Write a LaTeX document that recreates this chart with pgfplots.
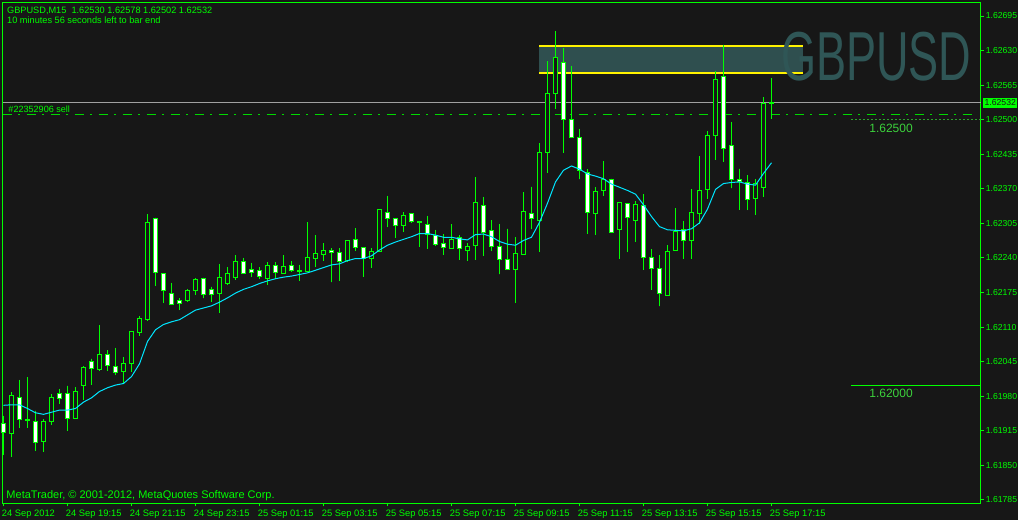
\documentclass[border=0pt]{standalone}
\usepackage{fontspec}
\setmainfont{Liberation Sans}
\usepackage{pgfplots}
\usepackage{pgfplotstable}
\usepgfplotslibrary{statistics}
\pgfplotsset{compat=1.18}

\newlength\px
\setlength\px{0.75pt}

\definecolor{chartbg}{HTML}{171717}
\definecolor{mtgreen}{HTML}{00FF00}
\definecolor{mtcyan}{HTML}{00E6FF}
\definecolor{dimgreen}{HTML}{2DA02D}
\definecolor{lblgreen}{HTML}{3CD23C}
\definecolor{zone}{HTML}{2F4F4F}
\definecolor{wmark}{HTML}{2F5656}
\definecolor{bidline}{HTML}{A0A0A0}

% GBPUSD M15 candles: low, body bottom, body top, high; up=1 bull (hollow), 0 bear (white)
\pgfplotstableread{
k low bot top high up
0 1.61870 1.61912 1.61928 1.61943 0
1 1.61865 1.61910 1.61981 1.61988 1
2 1.61920 1.61937 1.61978 1.62011 0
3 1.61921 1.61934 1.61937 1.62016 0
4 1.61878 1.61894 1.61932 1.61953 0
5 1.61876 1.61895 1.61932 1.61937 1
6 1.61926 1.61932 1.61978 1.61984 1
7 1.61966 1.61976 1.61986 1.61994 0
8 1.61915 1.61939 1.61986 1.62000 0
9 1.61938 1.61939 1.61989 1.61997 1
10 1.61973 1.62001 1.62035 1.62037 1
11 1.62002 1.62033 1.62046 1.62051 0
12 1.62028 1.62031 1.62059 1.62114 1
13 1.62028 1.62038 1.62059 1.62067 0
14 1.62020 1.62024 1.62036 1.62071 0
15 1.62003 1.62027 1.62042 1.62054 1
16 1.62025 1.62041 1.62102 1.62102 1
17 1.62094 1.62100 1.62127 1.62131 1
18 1.62121 1.62125 1.62307 1.62323 1
19 1.62188 1.62213 1.62315 1.62316 0
20 1.62156 1.62179 1.62211 1.62211 0
21 1.62153 1.62153 1.62174 1.62193 0
22 1.62142 1.62155 1.62161 1.62164 0
23 1.62158 1.62160 1.62179 1.62182 1
24 1.62171 1.62179 1.62200 1.62202 1
25 1.62164 1.62172 1.62202 1.62203 0
26 1.62158 1.62171 1.62180 1.62186 0
27 1.62137 1.62174 1.62204 1.62229 1
28 1.62190 1.62192 1.62211 1.62223 1
29 1.62199 1.62204 1.62234 1.62246 1
30 1.62211 1.62211 1.62234 1.62240 0
31 1.62204 1.62213 1.62219 1.62231 0
32 1.62201 1.62206 1.62217 1.62223 0
33 1.62190 1.62201 1.62226 1.62232 1
34 1.62201 1.62213 1.62226 1.62232 0
35 1.62210 1.62211 1.62224 1.62246 1
36 1.62214 1.62217 1.62226 1.62234 0
37 1.62197 1.62215 1.62217 1.62227 0
38 1.62214 1.62215 1.62241 1.62308 1
39 1.62223 1.62239 1.62248 1.62283 1
40 1.62234 1.62246 1.62255 1.62268 1
41 1.62194 1.62251 1.62254 1.62258 0
42 1.62197 1.62234 1.62251 1.62258 0
43 1.62234 1.62235 1.62273 1.62273 1
44 1.62254 1.62260 1.62275 1.62296 0
45 1.62205 1.62239 1.62260 1.62260 0
46 1.62222 1.62239 1.62253 1.62258 1
47 1.62252 1.62252 1.62332 1.62332 1
48 1.62298 1.62315 1.62326 1.62357 0
49 1.62278 1.62302 1.62315 1.62315 0
50 1.62289 1.62302 1.62320 1.62326 1
51 1.62306 1.62308 1.62324 1.62324 0
52 1.62261 1.62306 1.62309 1.62310 0
53 1.62257 1.62285 1.62303 1.62319 0
54 1.62263 1.62266 1.62283 1.62293 0
55 1.62246 1.62259 1.62268 1.62285 0
56 1.62258 1.62258 1.62275 1.62304 1
57 1.62237 1.62258 1.62278 1.62283 0
58 1.62234 1.62255 1.62262 1.62268 1
59 1.62237 1.62264 1.62345 1.62392 1
60 1.62244 1.62288 1.62339 1.62355 0
61 1.62253 1.62261 1.62292 1.62311 0
62 1.62209 1.62238 1.62262 1.62303 0
63 1.62219 1.62219 1.62238 1.62295 0
64 1.62155 1.62219 1.62249 1.62280 1
65 1.62247 1.62247 1.62327 1.62364 1
66 1.62294 1.62315 1.62324 1.62374 0
67 1.62252 1.62311 1.62438 1.62456 1
68 1.62400 1.62438 1.62550 1.62611 1
69 1.62520 1.62550 1.62617 1.62666 1
70 1.62438 1.62501 1.62608 1.62634 0
71 1.62467 1.62467 1.62501 1.62601 0
72 1.62388 1.62405 1.62467 1.62483 0
73 1.62286 1.62325 1.62400 1.62407 0
74 1.62284 1.62324 1.62365 1.62373 1
75 1.62357 1.62367 1.62388 1.62422 1
76 1.62287 1.62288 1.62388 1.62389 0
77 1.62239 1.62293 1.62345 1.62346 1
78 1.62251 1.62317 1.62342 1.62343 0
79 1.62271 1.62310 1.62340 1.62347 1
80 1.62218 1.62241 1.62339 1.62360 0
81 1.62180 1.62221 1.62240 1.62256 0
82 1.62149 1.62174 1.62221 1.62246 0
83 1.62169 1.62169 1.62253 1.62264 1
84 1.62255 1.62255 1.62290 1.62334 1
85 1.62239 1.62273 1.62294 1.62310 0
86 1.62239 1.62273 1.62325 1.62370 1
87 1.62304 1.62324 1.62367 1.62432 1
88 1.62350 1.62368 1.62471 1.62478 1
89 1.62425 1.62470 1.62576 1.62592 1
90 1.62421 1.62446 1.62582 1.62641 0
91 1.62371 1.62387 1.62452 1.62496 0
92 1.62331 1.62383 1.62388 1.62408 0
93 1.62330 1.62350 1.62382 1.62396 0
94 1.62320 1.62351 1.62380 1.62389 1
95 1.62355 1.62373 1.62531 1.62543 1
96 1.62502 1.62530 1.62532 1.62578 1
}\candles

% moving average (cyan)
\pgfplotstableread{
k ma
0 1.61963
1 1.61964
2 1.61964
3 1.61957
4 1.61949
5 1.61946
6 1.61950
7 1.61954
8 1.61954
9 1.61957
10 1.61969
11 1.61977
12 1.61989
13 1.61996
14 1.62001
15 1.62004
16 1.62017
17 1.62041
18 1.62083
19 1.62105
20 1.62115
21 1.62120
22 1.62124
23 1.62133
24 1.62142
25 1.62146
26 1.62150
27 1.62157
28 1.62165
29 1.62174
30 1.62181
31 1.62186
32 1.62192
33 1.62197
34 1.62201
35 1.62204
36 1.62206
37 1.62209
38 1.62212
39 1.62217
40 1.62222
41 1.62227
42 1.62229
43 1.62235
44 1.62239
45 1.62239
46 1.62244
47 1.62255
48 1.62264
49 1.62270
50 1.62275
51 1.62280
52 1.62286
53 1.62286
54 1.62283
55 1.62279
56 1.62279
57 1.62276
58 1.62274
59 1.62284
60 1.62285
61 1.62280
62 1.62271
63 1.62266
64 1.62264
65 1.62273
66 1.62279
67 1.62307
68 1.62343
69 1.62383
70 1.62405
71 1.62413
72 1.62407
73 1.62398
74 1.62394
75 1.62389
76 1.62379
77 1.62373
78 1.62367
79 1.62360
80 1.62340
81 1.62318
82 1.62299
83 1.62293
84 1.62292
85 1.62291
86 1.62295
87 1.62306
88 1.62332
89 1.62369
90 1.62380
91 1.62382
92 1.62383
93 1.62379
94 1.62377
95 1.62399
96 1.62419
}\matable

\pgfplotsset{
  candle/.style={boxplot/draw direction=y,
    boxplot/box extend=0.5, boxplot/whisker extend=0,
    boxplot/every box/.style={draw=mtgreen, line width=1\px},
    boxplot/every whisker/.style={draw=mtgreen, line width=1\px},
    boxplot/every median/.style={draw=mtgreen, line width=1\px}},
  candle0/.style={candle, draw=mtgreen, fill=white},
  candle1/.style={candle, draw=mtgreen, fill=chartbg},
}

\begin{document}
\begin{tikzpicture}
\fill[chartbg] (0,0) rectangle (1018\px,520\px);
\useasboundingbox (0,0) rectangle (1018\px,520\px);
\begin{axis}[
  at={(2.5\px,16.5\px)}, anchor=south west,
  scale only axis, width=978\px, height=501\px,
  xmin=-0.125, xmax=122.125, ymin=1.617784, ymax=1.627204,
  clip=false,
  axis line style={mtgreen, line width=1\px},
  tick style={mtgreen, line width=1\px},
  major tick length=3\px, tick align=outside,
  xtick pos=left, ytick pos=right, yticklabel pos=right,
  xtick={0,8,...,96},
  xticklabels={24 Sep 2012, 24 Sep 19:15, 24 Sep 21:15, 24 Sep 23:15,
    25 Sep 01:15, 25 Sep 03:15, 25 Sep 05:15, 25 Sep 07:15, 25 Sep 09:15,
    25 Sep 11:15, 25 Sep 13:15, 25 Sep 15:15, 25 Sep 17:15},
  ytick={1.61785,1.61850,1.61915,1.61980,1.62045,1.62110,1.62175,1.62240,
    1.62305,1.62370,1.62435,1.62500,1.62565,1.62630,1.62695},
  yticklabels={1.61785,1.61850,1.61915,1.61980,1.62045,1.62110,1.62175,1.62240,
    1.62305,1.62370,1.62435,1.62500,1.62565,1.62630,1.62695},
  every tick label/.append style={text=mtgreen, font=\fontsize{7}{8}\selectfont},
  xticklabel style={anchor=north west, inner sep=0pt, xshift=-1.8\px, yshift=-3\px},
  yticklabel style={anchor=west, inner sep=0pt, xshift=2\px, font=\fontsize{6.5}{8}\selectfont},
]
% resistance zone
\addplot[draw=none, fill=zone] coordinates {(66.95,1.62587) (99.95,1.62587) (99.95,1.62639) (66.95,1.62639)} -- cycle;
\addplot[yellow, line width=2\px] coordinates {(66.95,1.62639) (99.95,1.62639)};
\addplot[yellow, line width=2\px] coordinates {(66.95,1.62587) (99.95,1.62587)};

\node[text=wmark, font=\fontsize{52}{52}\selectfont, xscale=0.65, inner sep=0pt]
  at (axis cs:109.1,1.62618) {GBPUSD};

% horizontal levels
\addplot[bidline, line width=1\px] coordinates {(-0.125,1.62532) (122.125,1.62532)};
\addplot[mtgreen!85!black, line width=1\px, dash pattern=on 9.5\px off 6\px on 2\px off 6.5\px]
  coordinates {(-0.125,1.62509) (121.2,1.62509)};
\addplot[dimgreen, line width=1\px, dash pattern=on 2\px off 2\px]
  coordinates {(105.96,1.62500) (122.125,1.62500)};
\addplot[mtgreen, line width=1\px] coordinates {(105.96,1.62000) (122.125,1.62000)};

% candles
\pgfplotstablegetrowsof{\candles}
\pgfmathtruncatemacro\lastrow{\pgfplotsretval-1}
\pgfplotsforeachungrouped \i in {0,...,\lastrow}{
  \pgfplotstablegetelem{\i}{k}\of\candles \let\ck\pgfplotsretval
  \pgfplotstablegetelem{\i}{low}\of\candles \let\cl\pgfplotsretval
  \pgfplotstablegetelem{\i}{bot}\of\candles \let\cb\pgfplotsretval
  \pgfplotstablegetelem{\i}{top}\of\candles \let\ct\pgfplotsretval
  \pgfplotstablegetelem{\i}{high}\of\candles \let\ch\pgfplotsretval
  \pgfplotstablegetelem{\i}{up}\of\candles \let\cu\pgfplotsretval
  \edef\temp{\noexpand\addplot[candle\cu, boxplot prepared={draw position=\ck,
    lower whisker=\cl, lower quartile=\cb, median=\cb,
    upper quartile=\ct, upper whisker=\ch}] coordinates {};}
  \temp
}

% moving average
\addplot[mtcyan, line width=1\px] table[x=k, y=ma] {\matable};

% texts
\node[anchor=base west, inner sep=0pt, text=mtgreen, font=\fontsize{6.9}{8}\selectfont]
  at (axis cs:0.425,1.62699) {GBPUSD,M15\ \ 1.62530 1.62578 1.62502 1.62532};
\node[anchor=base west, inner sep=0pt, text=mtgreen, font=\fontsize{6.9}{8}\selectfont]
  at (axis cs:0.425,1.62680) {10 minutes 56 seconds left to bar end};
\node[anchor=base west, inner sep=0pt, text=mtgreen, font=\fontsize{6.8}{8}\selectfont]
  at (axis cs:0.59,1.62514) {\#22352906 sell};
\node[anchor=base west, inner sep=0pt, text=mtgreen, font=\fontsize{8.25}{9}\selectfont]
  at (axis cs:0.34,1.61787) {MetaTrader, © 2001-2012, MetaQuotes Software Corp.};
\node[anchor=base west, inner sep=0pt, text=lblgreen, font=\fontsize{9}{10}\selectfont]
  at (axis cs:108.2,1.62476) {1.62500};
\node[anchor=base west, inner sep=0pt, text=lblgreen, font=\fontsize{9}{10}\selectfont]
  at (axis cs:108.2,1.61977) {1.62000};
\node[anchor=west, fill=mtgreen, text=chartbg, inner xsep=1.2\px, inner ysep=0pt,
  minimum height=10\px, xshift=2.6\px, font=\fontsize{6.5}{8}\selectfont]
  at (axis cs:122.125,1.62532) {1.62532};
\end{axis}
\end{tikzpicture}
\end{document}
